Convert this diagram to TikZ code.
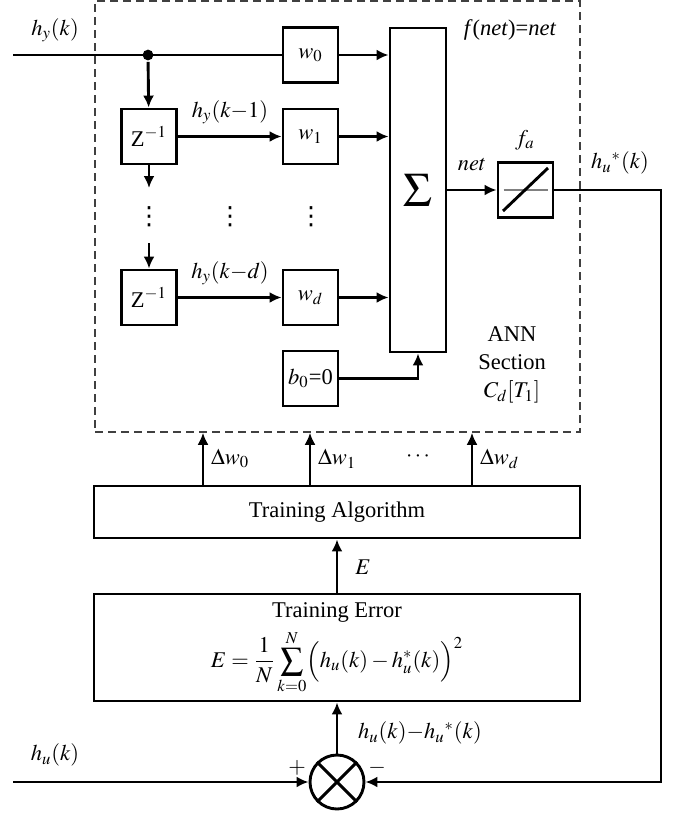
\documentclass[tikz,border=0pt]{standalone}
\usepackage{mathptmx}
\usepackage{fontspec}
\setmainfont{Liberation Serif}
\newfontfamily\symfont{DejaVu Sans}
\usetikzlibrary{arrows.meta}

\begin{document}
\begin{tikzpicture}[>={Latex[length=6pt,width=5.5pt]}, x=0.5pt, y=-0.5pt,
  line width=1.45pt, font=\fontsize{11.25}{14}\selectfont,
  blk/.style={draw, minimum width=27.5pt, minimum height=27.5pt, inner sep=0pt},
  wide/.style={draw, minimum width=243pt, inner sep=0pt},
  annbox/.style={draw=black!75, line width=0.75pt, dash pattern=on 4pt off 2.5pt,
    minimum width=242.5pt, minimum height=215.5pt, inner sep=0pt},
  dot/.style={circle, fill, inner sep=1.9pt}]

\useasboundingbox (0,0) rectangle (682,814);

%\draw[step=50,gray!30,line width=0.2pt] (0,0) grid (682,814);

% ANN section
\node[annbox] (ann) at (337.5,216.5) {};

\coordinate (hy) at (13,55);
\node[dot] (jn) at (148,55) {};
\node (hylab) at (55,30) {$h_y(k)$};

\node[blk] (w0) at (310.5,55) {$w_0$};
\node[blk] (z1) at (149,136.5) {Z$^{-1}$};
\node[blk] (w1) at (310.5,136.5) {$w_1$};
\node[blk] (zd) at (149,297.5) {Z$^{-1}$};
\node[blk] (wd) at (310.5,297.5) {$w_d$};
\node[blk] (b0) at (310.5,378.5) {$b_0$=0};

\node[draw, minimum width=28pt, minimum height=162pt, inner sep=0pt] (sig) at (418,190)
  {\fontsize{24}{24}\selectfont$\Sigma$};
\node[blk] (fa) at (525.5,190) {};
\draw[gray, line width=0.6pt] ([xshift=-11pt]fa.center) -- ([xshift=11pt]fa.center);
\draw ([shift={(-11.25pt,-10.5pt)}]fa.center) -- ([shift={(11.25pt,11pt)}]fa.center);

\coordinate (z1b) at (149,188);
\coordinate (zdt) at (149,243);
\foreach \x in {149,230,311}
\node (dots\x) at (\x,217) {\symfont\fontsize{12.5}{12.5}\selectfont ⋮};

\draw (hy) -- (w0);
\draw[->] (jn) -- (z1);
\draw[->] (z1) -- (z1b);
\draw[->] (zdt) -- (zd);
\draw[->] (z1) -- (w1);
\draw[->] (zd) -- (wd);
\node (k1lab) at (230,112) {$h_y(k{-}1)$};
\node (kdlab) at (230,273) {$h_y(k{-}d)$};

\draw[->] (w0) -- (w0 -| sig.west);
\draw[->] (w1) -- (w1 -| sig.west);
\draw[->] (wd) -- (wd -| sig.west);
\draw[->] (b0) -| (sig.south);
\draw[->] (sig) -- (fa);

\node (netlab) at (472,165) {$net$};
\node (falab) at (525,140) {$f_a$};
\node (flab) at (510,30) {\textit{f}(\textit{net})=\textit{net}};
\node[align=center] (annlab) at (512,365) {ANN\\Section\\$C_d[T_1]$};
\node (hslab) at (620,163) {$h_u{}^{*}(k)$};

% training part
\node[wide, minimum height=26pt] (ta) at (337,512) {Training Algorithm};
\node[wide, minimum height=53.5pt] (te) at (337,647.5) {};
\node (telab) at (337,612) {Training Error};
\node (eq) at (337,662)
  {$\displaystyle E=\frac{1}{N}\sum_{k=0}^{N}\Bigl(h_u(k)-h_u^{*}(k)\Bigr)^2$};

\foreach \dx/\i in {-67/0,-13.5/1,67.5/d}
\draw[->] ([xshift=\dx pt]ta.north) -- ([xshift=\dx pt]ta.north |- ann.south)
  node[midway, right] {$\Delta w_{\i}$};
\node (cdots) at (418,457) {$\cdots$};

\draw[->] (te) -- (ta);
\node (elab) at (363,567) {$E$};

% error junction
\node[draw, circle, minimum size=27pt, inner sep=0pt] (sum) at (337,782) {};
\draw (sum.45) -- (sum.225) (sum.135) -- (sum.315);
\node (plus) at (297,768) {$+$};
\node (minus) at (377,768) {$-$};

\coordinate (hu) at (13,782);
\coordinate (ret) at (661,190);
\node (hulab) at (55,755) {$h_u(k)$};
\draw[->] (hu) -- (sum);
\draw[->] (fa) -- (ret) |- (sum);
\draw[->] (sum) -- (te);
\node[anchor=west] (dlab) at (350,733) {$h_u(k){-}h_u{}^{*}(k)$};

\end{tikzpicture}
\end{document}
